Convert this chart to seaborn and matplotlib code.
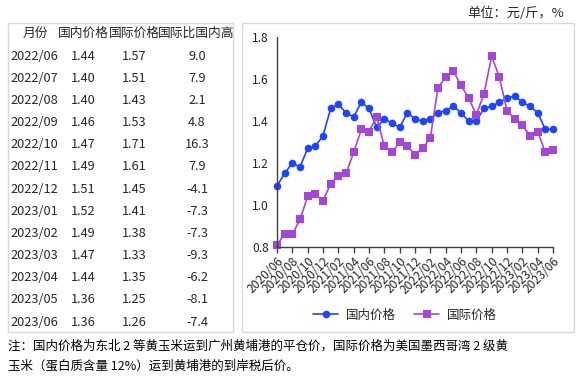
import matplotlib
matplotlib.use("Agg")
import matplotlib.pyplot as plt
from matplotlib.patches import Rectangle
from matplotlib.lines import Line2D
import seaborn as sns
import pandas as pd

months = ["2020/06", "2020/07", "2020/08", "2020/09", "2020/10", "2020/11", "2020/12",
          "2021/01", "2021/02", "2021/03", "2021/04", "2021/05", "2021/06", "2021/07",
          "2021/08", "2021/09", "2021/10", "2021/11", "2021/12", "2022/01", "2022/02",
          "2022/03", "2022/04", "2022/05", "2022/06", "2022/07", "2022/08", "2022/09",
          "2022/10", "2022/11", "2022/12", "2023/01", "2023/02", "2023/03", "2023/04",
          "2023/05", "2023/06"]
domestic = [1.09, 1.15, 1.20, 1.18, 1.27, 1.28, 1.33, 1.46, 1.48, 1.44, 1.42, 1.49, 1.46,
            1.37, 1.41, 1.39, 1.37, 1.44, 1.41, 1.40, 1.41, 1.44, 1.45, 1.47, 1.44,
            1.40, 1.40, 1.46, 1.47, 1.49, 1.51, 1.52, 1.49, 1.47, 1.44, 1.36, 1.36]
international = [0.81, 0.86, 0.86, 0.93, 1.04, 1.05, 1.02, 1.10, 1.14, 1.15, 1.25, 1.36, 1.35,
                 1.42, 1.28, 1.25, 1.30, 1.28, 1.24, 1.27, 1.32, 1.56, 1.61, 1.64, 1.57,
                 1.51, 1.43, 1.53, 1.71, 1.61, 1.45, 1.41, 1.38, 1.33, 1.35, 1.25, 1.26]

table_header = ["月份", "国内价格", "国际价格", "国际比国内高"]
table_months = ["2022/06", "2022/07", "2022/08", "2022/09", "2022/10", "2022/11", "2022/12",
                "2023/01", "2023/02", "2023/03", "2023/04", "2023/05", "2023/06"]
table_dom = ["1.44", "1.40", "1.40", "1.46", "1.47", "1.49", "1.51", "1.52", "1.49", "1.47", "1.44", "1.36", "1.36"]
table_int = ["1.57", "1.51", "1.43", "1.53", "1.71", "1.61", "1.45", "1.41", "1.38", "1.33", "1.35", "1.25", "1.26"]
table_diff = ["9.0", "7.9", "2.1", "4.8", "16.3", "7.9", "-4.1", "-7.3", "-7.3", "-9.3", "-6.2", "-8.1", "-7.4"]

note_lines = ["注：国内价格为东北 2 等黄玉米运到广州黄埔港的平仓价，国际价格为美国墨西哥湾 2 级黄",
              "玉米（蛋白质含量 12%）运到黄埔港的到岸税后价。"]
unit_text = "单位：元/斤，%"

sns.set_theme(style="white")
plt.rcParams["font.family"] = ["Noto Sans CJK SC", "DejaVu Sans"]

W, H = 581, 379
fig = plt.figure(figsize=(W / 100, H / 100), dpi=100)

def fx(px):
    return px / W

def fy(py):
    return 1 - py / H

# boxes
for (x0, x1) in [(8, 233), (242, 574)]:
    fig.patches.append(Rectangle((fx(x0), fy(332)), fx(x1) - fx(x0), fy(23) - fy(332),
                                 transform=fig.transFigure, fill=False,
                                 edgecolor="#d9d9d9", linewidth=1.0))

# table
tc = "#262626"
fs_t = 9.2
header_y = 33
fig.text(fx(35), fy(header_y), table_header[0], ha="center", va="center", fontsize=fs_t, color=tc)
fig.text(fx(83), fy(header_y), table_header[1], ha="center", va="center", fontsize=fs_t, color=tc)
fig.text(fx(134), fy(header_y), table_header[2], ha="center", va="center", fontsize=fs_t, color=tc)
fig.text(fx(196), fy(header_y), table_header[3], ha="center", va="center", fontsize=fs_t, color=tc)
for i in range(len(table_months)):
    y = 56 + i * 22.17
    fig.text(fx(10), fy(y), table_months[i], ha="left", va="center", fontsize=fs_t, color=tc)
    fig.text(fx(83), fy(y), table_dom[i], ha="center", va="center", fontsize=fs_t, color=tc)
    fig.text(fx(134), fy(y), table_int[i], ha="center", va="center", fontsize=fs_t, color=tc)
    fig.text(fx(197), fy(y), table_diff[i], ha="center", va="center", fontsize=fs_t, color=tc)

# chart
ax = fig.add_axes([fx(277), fy(246.7), fx(553) - fx(277), fy(37.3) - fy(246.7)])
n = len(months)
df = pd.DataFrame({
    "idx": list(range(n)) * 2,
    "value": domestic + international,
    "series": ["国内价格"] * n + ["国际价格"] * n,
})
blue = "#1F45FC"
purple = "#A546D6"
sns.lineplot(data=df, x="idx", y="value", hue="series", style="series",
             markers={"国内价格": "o", "国际价格": "s"}, dashes=False,
             palette={"国内价格": blue, "国际价格": purple},
             markersize=5.5, markeredgewidth=0, linewidth=1.2, ax=ax, legend=False,
             clip_on=False)
ax.set_xlim(0, n - 1)
ax.set_ylim(0.8, 1.8)
ax.set_yticks([0.8, 1.0, 1.2, 1.4, 1.6, 1.8])
ax.set_yticklabels(["0.8", "1.0", "1.2", "1.4", "1.6", "1.8"])
ticks = list(range(0, n, 2))
ax.set_xticks(ticks)
ax.set_xticklabels([months[i] for i in ticks], rotation=45, ha="right",
                   rotation_mode="anchor")
ax.set_xlabel("")
ax.set_ylabel("")
for s in ["top", "right"]:
    ax.spines[s].set_visible(False)
for s in ["left", "bottom"]:
    ax.spines[s].set_color("#404040")
    ax.spines[s].set_linewidth(1.0)
ax.tick_params(axis="x", length=4, width=1, color="#404040", labelsize=8.7,
               labelcolor="#262626", pad=2, bottom=True)
ax.tick_params(axis="y", length=0, labelsize=8.7, labelcolor="#262626", pad=6)
ax.grid(False)
ax.set_facecolor("none")

handles = [Line2D([], [], color=blue, marker="o", markersize=5.5, markeredgewidth=0, linewidth=1.2),
           Line2D([], [], color=purple, marker="s", markersize=5.5, markeredgewidth=0, linewidth=1.2)]
fig.legend(handles, ["国内价格", "国际价格"], loc="center", bbox_to_anchor=(fx(405), fy(315)),
           ncol=2, frameon=False, fontsize=9, handlelength=2.0, columnspacing=1.5,
           handletextpad=0.6, labelcolor="#262626")

# unit
fig.text(fx(564), fy(13), unit_text, ha="right", va="center", fontsize=9.5, color="#262626")

# note
fig.text(fx(8), fy(346), note_lines[0], ha="left", va="center", fontsize=9.0, color="black")
fig.text(fx(8), fy(366), note_lines[1], ha="left", va="center", fontsize=9.0, color="black")

fig.savefig("out.png", dpi=100)
